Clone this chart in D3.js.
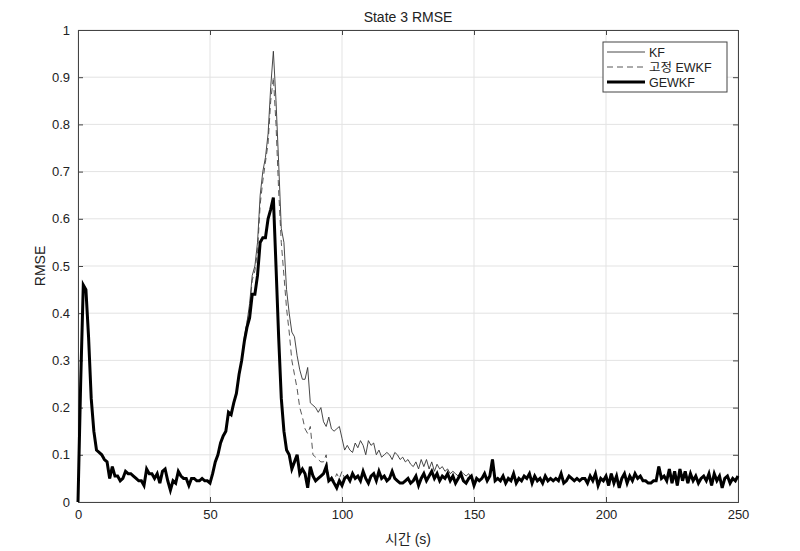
<!DOCTYPE html>
<html><head><meta charset="utf-8">
<script src="https://cdn.jsdelivr.net/npm/d3@7"></script>
<style>body{margin:0;background:#fff}text{font-family:"Liberation Sans","Noto Sans CJK KR",sans-serif}</style>
</head><body><div id="chart"></div>
<script>
// GEWKF RMSE, one value per second, t = 0..250
const gewkf = [
  0,0.25,0.46,0.45,0.35,0.22,0.15,0.11,0.105,0.1,0.09,0.085,0.05,0.075,0.055,0.055,0.045,0.05,0.065,0.06,
  0.06,0.055,0.05,0.045,0.045,0.035,0.07,0.06,0.06,0.05,0.06,0.04,0.065,0.07,0.045,0.025,0.045,0.04,0.065,0.055,
  0.05,0.05,0.035,0.05,0.05,0.045,0.045,0.05,0.045,0.045,0.04,0.06,0.085,0.1,0.125,0.14,0.15,0.19,0.185,0.21,
  0.23,0.27,0.3,0.34,0.37,0.39,0.44,0.44,0.48,0.55,0.56,0.56,0.6,0.62,0.645,0.5,0.35,0.22,0.15,0.11,
  0.1,0.07,0.085,0.1,0.06,0.07,0.06,0.03,0.075,0.055,0.045,0.05,0.055,0.06,0.075,0.045,0.05,0.04,0.03,0.045,
  0.035,0.05,0.055,0.045,0.06,0.05,0.055,0.045,0.065,0.05,0.04,0.055,0.06,0.045,0.065,0.05,0.055,0.045,0.05,0.065,
  0.05,0.045,0.04,0.04,0.045,0.05,0.04,0.045,0.055,0.035,0.05,0.06,0.045,0.055,0.065,0.05,0.06,0.045,0.055,0.05,
  0.06,0.045,0.055,0.04,0.05,0.06,0.045,0.04,0.05,0.055,0.035,0.05,0.045,0.05,0.06,0.045,0.055,0.09,0.045,0.05,
  0.045,0.055,0.04,0.05,0.045,0.06,0.04,0.05,0.045,0.055,0.05,0.06,0.04,0.055,0.045,0.05,0.04,0.055,0.045,0.05,
  0.045,0.05,0.045,0.06,0.04,0.045,0.055,0.05,0.045,0.05,0.045,0.05,0.05,0.04,0.055,0.045,0.06,0.035,0.05,0.045,
  0.055,0.035,0.06,0.04,0.055,0.03,0.05,0.06,0.04,0.055,0.045,0.06,0.05,0.055,0.045,0.045,0.04,0.04,0.045,0.045,
  0.075,0.05,0.055,0.045,0.07,0.04,0.065,0.035,0.07,0.045,0.065,0.04,0.06,0.045,0.055,0.04,0.05,0.055,0.045,0.06,
  0.035,0.06,0.045,0.055,0.03,0.05,0.055,0.04,0.05,0.045,0.055
];
// KF values from t = 62 where it separates from GEWKF
const kfStart = 62;
const kfSeg = [
  0.3,0.35,0.38,0.42,0.48,0.5,0.55,0.65,0.7,0.73,0.78,0.88,0.955,0.85,0.72,0.58,0.55,0.45,0.4,0.36,
  0.35,0.31,0.28,0.26,0.26,0.285,0.21,0.205,0.2,0.19,0.2,0.17,0.16,0.18,0.155,0.15,0.155,0.16,
  0.135,0.11,0.12,0.11,0.105,0.125,0.115,0.13,0.12,0.1,0.13,0.12,0.125,0.1,0.11,0.095,0.1,0.105,0.1,0.09,
  0.105,0.1,0.09,0.095,0.085,0.09,0.08,0.075,0.085,0.07,0.09,0.075,0.09,0.07,0.085,0.065,0.08,0.07,0.075,0.065,
  0.07,0.06,0.065,0.06,0.055,0.065,0.06,0.055,0.06,0.05
];
// fixed EWKF values from t = 62
const ewkfStart = 62;
const ewkfSeg = [
  0.3,0.34,0.38,0.41,0.47,0.49,0.53,0.63,0.68,0.72,0.76,0.85,0.9,0.8,0.66,0.55,0.48,0.41,0.36,0.3,
  0.27,0.24,0.2,0.18,0.155,0.145,0.16,0.1,0.095,0.09,0.085,0.085,0.1,0.05,0.055,0.045,0.06,0.05,0.065
];
const xTicks = [0,50,100,150,200,250];
const yTicks = [0,0.1,0.2,0.3,0.4,0.5,0.6,0.7,0.8,0.9,1];
const names = ['KF','고정 EWKF','GEWKF'];

const time = gewkf.map((d, i) => i);
const merge = (start, seg) => gewkf.map((v, i) => (i >= start && i < start + seg.length) ? seg[i - start] : v);
const kf = merge(kfStart, kfSeg);
const ewkf = merge(ewkfStart, ewkfSeg);

const W = 800, H = 551;
const m = {left: 78, right: 62, top: 30, bottom: 49};
const svg = d3.select('#chart').append('svg').attr('width', W).attr('height', H);

const x = d3.scaleLinear().domain([0, 250]).range([m.left, W - m.right]);
const y = d3.scaleLinear().domain([0, 1]).range([H - m.bottom, m.top]);

svg.append('g').selectAll('line').data(xTicks).join('line')
  .attr('x1', d => x(d)).attr('x2', d => x(d)).attr('y1', y(0)).attr('y2', y(1))
  .attr('stroke', '#e3e3e3');
svg.append('g').selectAll('line').data(yTicks).join('line')
  .attr('y1', d => y(d)).attr('y2', d => y(d)).attr('x1', x(0)).attr('x2', x(250))
  .attr('stroke', '#e3e3e3');

svg.append('g').attr('transform', `translate(0,${y(0)})`)
  .call(d3.axisBottom(x).tickValues(xTicks).tickSize(-5).tickPadding(8));
svg.append('g').attr('transform', `translate(${x(0)},0)`)
  .call(d3.axisLeft(y).tickValues(yTicks).tickFormat(d => d === 0 || d === 1 ? d : d3.format('.1f')(d)).tickSize(-5).tickPadding(8));
svg.append('g').attr('transform', `translate(0,${y(1)})`)
  .call(d3.axisTop(x).tickValues(xTicks).tickSize(-5).tickFormat(''));
svg.append('g').attr('transform', `translate(${x(250)},0)`)
  .call(d3.axisRight(y).tickValues(yTicks).tickSize(-5).tickFormat(''));
svg.selectAll('.domain, .tick line').attr('stroke', '#444');
svg.selectAll('.tick text').attr('font-size', 13).attr('fill', '#222');

const line = d3.line().x((d, i) => x(time[i])).y(d => y(d));
svg.append('path').datum(kf).attr('d', line).attr('fill', 'none').attr('stroke', '#333').attr('stroke-width', 0.9);
svg.append('path').datum(ewkf).attr('d', line).attr('fill', 'none').attr('stroke', '#444').attr('stroke-width', 0.9).attr('stroke-dasharray', '6,4');
svg.append('path').datum(gewkf).attr('d', line).attr('fill', 'none').attr('stroke', '#000').attr('stroke-width', 3);

svg.append('text').attr('x', (x(0) + x(250)) / 2).attr('y', 22).attr('text-anchor', 'middle')
  .attr('font-size', 14).attr('fill', '#222').text('State 3 RMSE');
svg.append('text').attr('x', (x(0) + x(250)) / 2).attr('y', 544).attr('text-anchor', 'middle')
  .attr('font-size', 14).attr('fill', '#222').text('시간 (s)');
svg.append('text').attr('transform', `translate(45,${(y(0) + y(1)) / 2}) rotate(-90)`).attr('text-anchor', 'middle')
  .attr('font-size', 14).attr('fill', '#222').text('RMSE');

const lg = svg.append('g').attr('transform', 'translate(603,42)');
lg.append('rect').attr('width', 124).attr('height', 50).attr('fill', '#fff').attr('stroke', '#444');
const styles = [{w: 0.9, dash: null, c: '#333'}, {w: 0.9, dash: '6,4', c: '#444'}, {w: 3, dash: null, c: '#000'}];
names.forEach((n, i) => {
  const yy = 10 + i * 15;
  lg.append('line').attr('x1', 4).attr('x2', 42).attr('y1', yy).attr('y2', yy)
    .attr('stroke', styles[i].c).attr('stroke-width', styles[i].w).attr('stroke-dasharray', styles[i].dash);
  lg.append('text').attr('x', 46).attr('y', yy + 4.5).attr('font-size', 12.5).attr('fill', '#222').text(n);
});
</script></body></html>
